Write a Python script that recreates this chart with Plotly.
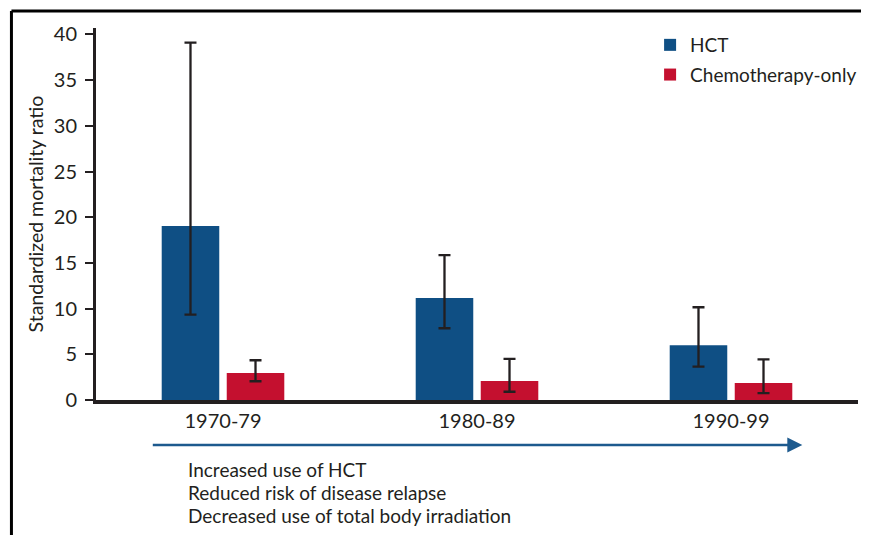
import plotly.graph_objects as go

categories = ["1970-79", "1980-89", "1990-99"]
hct_values = [19.05, 11.15, 6.0]
hct_upper = [39.1, 15.85, 10.15]
hct_lower = [9.35, 7.85, 3.65]
chemo_values = [2.95, 2.08, 1.85]
chemo_upper = [4.35, 4.5, 4.45]
chemo_lower = [2.05, 0.9, 0.75]
y_ticks = [0, 5, 10, 15, 20, 25, 30, 35, 40]
notes = ["Increased use of HCT", "Reduced risk of disease relapse", "Decreased use of total body irradiation"]

FONT = "Lato"
TXT = "#231f20"
BLUE = "#0f4f84"
RED = "#c4102f"

def err(vals, up, lo):
    return dict(type="data", symmetric=False,
                array=[u - v for u, v in zip(up, vals)],
                arrayminus=[v - l for v, l in zip(vals, lo)],
                color=TXT, thickness=2.3, width=6)

fig = go.Figure()
fig.add_trace(go.Bar(x=categories, y=hct_values, name="HCT", marker_color=BLUE, legendgroup="a",
                     marker_line_width=0, error_y=err(hct_values, hct_upper, hct_lower)))
fig.add_trace(go.Bar(x=categories, y=chemo_values, name="Chemotherapy-only", marker_color=RED,
                     legendgroup="b",
                     marker_line_width=0, error_y=err(chemo_values, chemo_upper, chemo_lower)))

OFF = 8  # page body margin
SW, SH = 869, 535
W, H = SW - OFF, SH - OFF
# plot area in screen pixels
X0, X1, Y0, Y1 = 96, 862, 28, 400
L, R, T, B = X0 - OFF, W - (X1 - OFF), Y0 - OFF, H - (Y1 - OFF)
pw, ph = X1 - X0, Y1 - Y0

def px(x):
    return (x - X0) / pw

def py(y):
    return (Y1 - y) / ph

fig.update_layout(
    width=W, height=H,
    margin=dict(l=L, r=R, t=T, b=B, pad=0),
    paper_bgcolor="white", plot_bgcolor="white",
    barmode="group", bargap=0.488, bargroupgap=0.115,
    font=dict(family=FONT, size=19, color=TXT),
    showlegend=True,
    legend=dict(x=px(653), y=py(26), xanchor="left", yanchor="top",
                font=dict(family=FONT, size=19, color=TXT),
                itemwidth=30, tracegroupgap=2, bgcolor="rgba(0,0,0,0)"),
    xaxis=dict(range=[-0.5, 2.5], showline=True, linecolor=TXT, linewidth=3.5,
               ticks="", showgrid=False, zeroline=False,
               tickfont=dict(family=FONT, size=20, color=TXT)),
    yaxis=dict(range=[0, 40.7], tickvals=y_ticks, showline=True, linecolor=TXT, linewidth=3,
               ticks="outside", ticklen=8, tickwidth=1.8, tickcolor=TXT, showgrid=False,
               ticklabelstandoff=4,
               zeroline=False, tickfont=dict(family=FONT, size=20, color=TXT),
               title=dict(text="Standardized mortality ratio", standoff=5,
                          font=dict(family=FONT, size=19.5, color=TXT))),
)

# frame lines
fig.add_shape(type="line", xref="paper", yref="paper", x0=px(11), x1=px(880), y0=py(11), y1=py(11),
              line=dict(color="black", width=3))
fig.add_shape(type="line", xref="paper", yref="paper", x0=px(11), x1=px(11), y0=py(11), y1=py(545),
              line=dict(color="black", width=3))

# timeline arrow
fig.add_annotation(xref="paper", yref="paper", x=px(806), y=py(445), ax=-651, ay=0,
                   text="", showarrow=True, arrowhead=2, arrowsize=1.2, arrowwidth=2.5,
                   arrowcolor="#1d5a8e")

for i, line in enumerate(notes):
    fig.add_annotation(xref="paper", yref="paper", x=px(186), y=py(469 + 23 * i),
                       xanchor="left", yanchor="middle",
                       text=line, showarrow=False, align="left",
                       font=dict(family=FONT, size=19, color=TXT))

fig.write_html("out.html")
